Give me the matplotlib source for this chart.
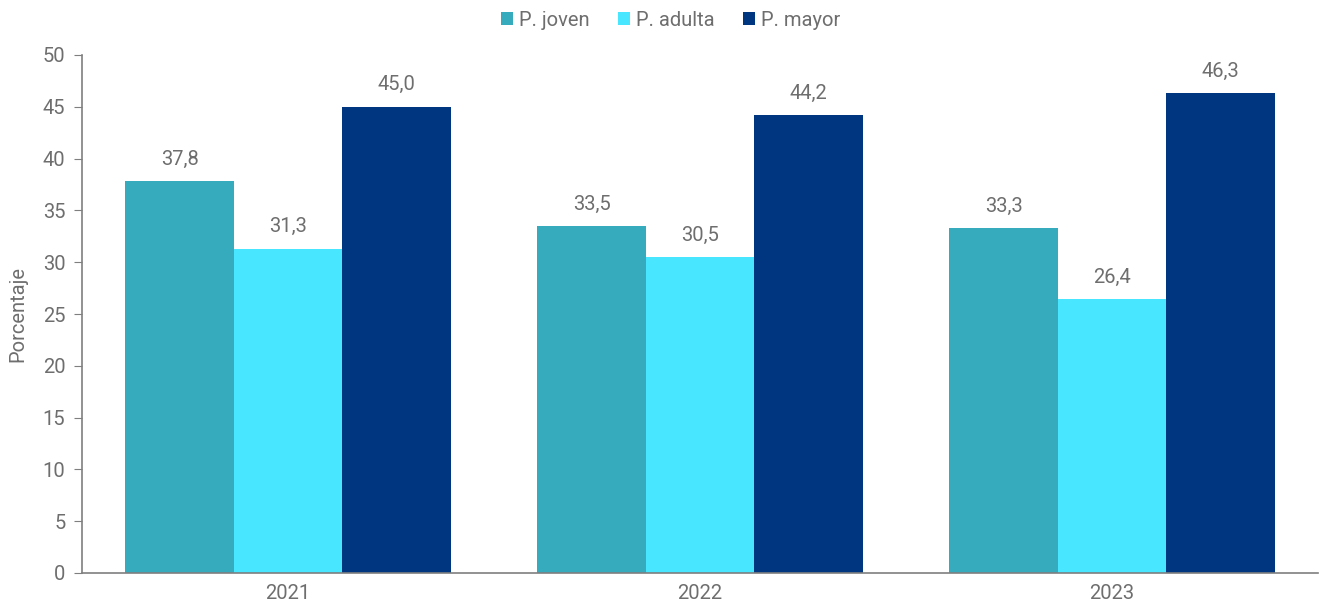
import matplotlib
matplotlib.use("Agg")
import matplotlib.pyplot as plt
import numpy as np

years = ["2021", "2022", "2023"]
series = ["P. joven", "P. adulta", "P. mayor"]
joven = [37.8, 33.5, 33.3]
adulta = [31.3, 30.5, 26.4]
mayor = [45.0, 44.2, 46.3]
colors = ["#35ABBD", "#48E6FF", "#003580"]

plt.rcParams['font.family'] = ['Roboto', 'DejaVu Sans']
plt.rcParams['font.weight'] = 'normal'
txt = "#6e6e6e"
fs = 14.5

fig = plt.figure(figsize=(13.23, 6.1), dpi=100)
ax = fig.add_axes([82/1323, 1-573/610, 1236/1323, (573-55)/610])

x = np.arange(len(years))
w = 0.263
for i, (vals, name, c) in enumerate(zip([joven, adulta, mayor], series, colors)):
    pos = x + (i - 1) * w
    ax.bar(pos, vals, width=w, color=c, label=name, edgecolor='none')
    for p, v in zip(pos, vals):
        ax.annotate(f"{v:.1f}".replace(".", ","), (p, v), xytext=(0, 9),
                    textcoords="offset points", ha="center", va="bottom",
                    fontsize=fs, color=txt)

ax.set_xlim(-0.5, 2.5)
ax.set_ylim(0, 50)
ax.set_yticks(range(0, 51, 5))
ax.set_xticks(x)
ax.set_xticklabels(years)
for s in ["top", "right"]:
    ax.spines[s].set_visible(False)
for s in ["left", "bottom"]:
    ax.spines[s].set_color("#7f7f7f")
    ax.spines[s].set_linewidth(1.2)
ax.tick_params(axis="y", direction="out", length=6, color="#7f7f7f", labelsize=fs, labelcolor=txt, pad=6)
ax.tick_params(axis="x", length=0, labelsize=fs, labelcolor=txt, pad=8)
ax.set_ylabel("Porcentaje", fontsize=fs, color=txt, labelpad=11)

handles, labels = ax.get_legend_handles_labels()
leg = fig.legend(handles, labels, loc="center", bbox_to_anchor=(671/1323, 1 - 20/610), ncol=3, frameon=False,
                 fontsize=fs, handlelength=0.6, handleheight=0.6, handletextpad=0.3, columnspacing=1.4)
for t in leg.get_texts():
    t.set_color(txt)

fig.savefig("out.png", dpi=100)
